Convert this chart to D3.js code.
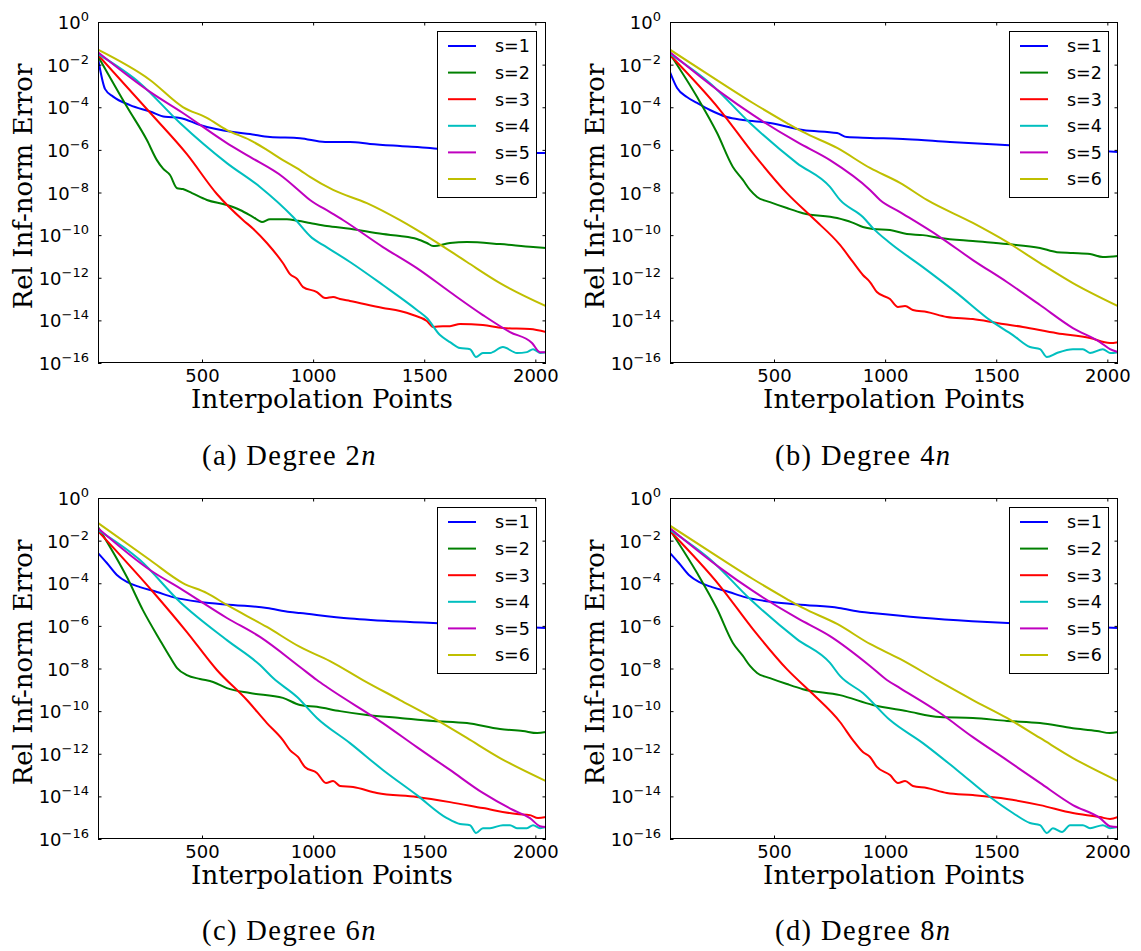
<!DOCTYPE html>
<html><head><meta charset="utf-8">
<script src="https://cdn.jsdelivr.net/npm/d3@7"></script>
<style>body{margin:0;background:#fff}</style>
</head><body>
<script>
// ---------- data (n, log10 of relative inf-norm error) ----------
const seriesNames = ["s=1","s=2","s=3","s=4","s=5","s=6"];
const seriesColors = ["#0000ff","#008000","#ff0000","#00bfbf","#bf00bf","#bfbf00"];
const xTicks = [500,1000,1500,2000];
const yTickExps = [0,-2,-4,-6,-8,-10,-12,-14,-16];
const captions = [["(a) Degree 2","n"],["(b) Degree 4","n"],["(c) Degree 6","n"],["(d) Degree 8","n"]];

// panel (a) degree 2n
const a_s1 = [[32,-1.69],[64,-3.15],[100,-3.5],[176,-3.9],[266,-4.2],[334,-4.45],[401,-4.5],[491,-4.83],[640,-5.16],[716,-5.26],[806,-5.4],[941,-5.45],[1054,-5.63],[1166,-5.63],[1256,-5.72],[1391,-5.82],[1526,-5.91],[1616,-6.0],[1751,-6.1],[2048,-6.15]];
const a_s2 = [[32,-1.6],[163,-3.99],[252,-5.54],[297,-6.48],[324,-6.87],[356,-7.18],[388,-7.8],[414,-7.84],[455,-8.03],[522,-8.35],[612,-8.59],[671,-8.82],[730,-9.15],[770,-9.38],[806,-9.25],[882,-9.25],[932,-9.33],[986,-9.43],[1062,-9.57],[1166,-9.7],[1314,-9.95],[1391,-10.04],[1467,-10.18],[1512,-10.37],[1540,-10.51],[1616,-10.37],[1692,-10.32],[1841,-10.42],[1990,-10.56],[2048,-10.6]];
const a_s3 = [[32,-1.55],[280,-4.41],[432,-6.2],[567,-8.07],[684,-9.29],[730,-9.7],[792,-10.37],[864,-11.31],[896,-11.83],[928,-12.06],[955,-12.44],[1017,-12.67],[1054,-12.95],[1090,-12.9],[1121,-13.0],[1166,-13.09],[1314,-13.42],[1391,-13.56],[1450,-13.75],[1512,-14.03],[1540,-14.31],[1584,-14.27],[1616,-14.27],[1661,-14.17],[1764,-14.22],[1854,-14.36],[1976,-14.41],[2048,-14.55]];
const a_s4 = [[32,-1.5],[221,-2.87],[401,-4.74],[612,-6.62],[761,-7.74],[910,-9.15],[995,-10.13],[1044,-10.46],[1166,-11.26],[1314,-12.34],[1467,-13.51],[1512,-13.89],[1571,-14.69],[1616,-15.02],[1661,-15.3],[1706,-15.35],[1733,-15.72],[1764,-15.53],[1796,-15.53],[1854,-15.25],[1917,-15.53],[1962,-15.49],[1990,-15.35],[2021,-15.53],[2048,-15.49]];
const a_s5 = [[32,-1.42],[266,-3.28],[414,-4.27],[612,-5.68],[716,-6.33],[864,-7.27],[941,-7.95],[986,-8.35],[1076,-8.92],[1134,-9.29],[1314,-10.56],[1467,-11.55],[1616,-12.67],[1764,-13.75],[1886,-14.55],[1985,-15.06],[2021,-15.49],[2048,-15.49]];
const a_s6 = [[32,-1.3],[266,-2.72],[414,-3.99],[522,-4.5],[612,-5.07],[716,-5.54],[792,-6.0],[864,-6.48],[941,-6.95],[986,-7.27],[1090,-7.88],[1242,-8.5],[1391,-9.3],[1540,-10.23],[1692,-11.26],[1841,-12.25],[2048,-13.33]];

// panel (b) degree 4n
const b_s1 = [[32,-2.35],[64,-3.1],[108,-3.52],[154,-3.8],[212,-4.13],[288,-4.46],[360,-4.6],[482,-4.74],[630,-5.07],[784,-5.21],[828,-5.4],[932,-5.44],[1100,-5.5],[1292,-5.63],[1500,-5.75],[1697,-5.87],[1900,-6.0],[2048,-6.1]];
const b_s2 = [[32,-1.5],[154,-3.52],[244,-5.21],[315,-6.8],[360,-7.41],[392,-7.88],[424,-8.21],[482,-8.45],[558,-8.73],[630,-8.97],[784,-9.2],[850,-9.4],[900,-9.62],[945,-9.71],[1022,-9.76],[1098,-9.95],[1170,-10.0],[1247,-10.13],[1395,-10.28],[1548,-10.42],[1697,-10.6],[1773,-10.8],[1845,-10.84],[1922,-10.89],[1980,-11.03],[2048,-10.98]];
const b_s3 = [[32,-1.55],[257,-4.13],[405,-6.15],[558,-8.03],[675,-9.2],[797,-10.46],[855,-11.26],[900,-11.87],[932,-12.2],[963,-12.67],[1022,-13.0],[1058,-13.37],[1090,-13.33],[1125,-13.51],[1188,-13.61],[1278,-13.84],[1395,-13.94],[1503,-14.12],[1620,-14.31],[1773,-14.6],[1922,-14.83],[2012,-15.06],[2048,-15.02]];
const b_s4 = [[32,-1.5],[212,-2.87],[392,-4.74],[603,-6.62],[752,-7.74],[797,-8.35],[900,-9.15],[945,-9.67],[1022,-10.37],[1170,-11.5],[1323,-12.72],[1472,-13.99],[1575,-14.69],[1652,-15.25],[1697,-15.35],[1728,-15.72],[1773,-15.53],[1845,-15.35],[1890,-15.35],[1922,-15.53],[1980,-15.35],[2012,-15.53],[2048,-15.49]];
const b_s5 = [[32,-1.42],[257,-3.28],[405,-4.36],[603,-5.63],[752,-6.48],[932,-7.88],[977,-8.35],[1067,-8.92],[1247,-10.09],[1395,-11.17],[1548,-12.2],[1697,-13.28],[1845,-14.36],[1967,-15.02],[2012,-15.35],[2048,-15.49]];
const b_s6 = [[32,-1.3],[257,-2.82],[405,-3.8],[558,-4.74],[630,-5.16],[784,-5.91],[932,-6.85],[1067,-7.55],[1188,-8.35],[1395,-9.43],[1548,-10.32],[1697,-11.31],[1845,-12.25],[2048,-13.33]];

// panel (c) degree 6n
const c_s1 = [[32,-2.58],[72,-3.05],[117,-3.61],[162,-3.94],[221,-4.18],[297,-4.41],[369,-4.65],[491,-4.88],[640,-5.02],[792,-5.16],[896,-5.35],[941,-5.4],[1166,-5.65],[1391,-5.8],[1616,-5.9],[1841,-6.0],[2048,-6.1]];
const c_s2 = [[32,-1.36],[162,-3.71],[234,-5.26],[311,-6.67],[356,-7.46],[388,-7.98],[432,-8.31],[491,-8.49],[550,-8.63],[612,-8.92],[716,-9.15],[864,-9.38],[941,-9.71],[1017,-9.8],[1121,-10.0],[1242,-10.18],[1391,-10.32],[1540,-10.46],[1692,-10.56],[1841,-10.84],[1944,-10.93],[2008,-11.03],[2048,-10.98]];
const c_s3 = [[32,-1.55],[280,-4.41],[432,-6.29],[567,-8.07],[702,-9.48],[792,-10.56],[864,-11.36],[896,-11.83],[932,-12.15],[963,-12.62],[1017,-12.9],[1058,-13.37],[1090,-13.28],[1121,-13.51],[1180,-13.56],[1287,-13.84],[1467,-14.03],[1616,-14.27],[1764,-14.55],[1917,-14.83],[1976,-14.88],[2012,-15.02],[2048,-14.97]];
const c_s4 = [[32,-1.5],[221,-2.91],[401,-4.88],[612,-6.67],[761,-7.84],[820,-8.45],[928,-9.34],[1017,-10.32],[1166,-11.5],[1314,-12.76],[1467,-13.94],[1602,-15.02],[1661,-15.3],[1706,-15.35],[1733,-15.72],[1764,-15.49],[1796,-15.49],[1854,-15.35],[1886,-15.35],[1917,-15.49],[1962,-15.49],[1990,-15.35],[2021,-15.49],[2048,-15.44]];
const c_s5 = [[32,-1.42],[266,-3.38],[414,-4.32],[612,-5.63],[761,-6.52],[941,-7.93],[1017,-8.54],[1062,-8.87],[1314,-10.56],[1467,-11.69],[1616,-12.76],[1764,-13.84],[1900,-14.64],[1976,-15.02],[2021,-15.4],[2048,-15.44]];
const c_s6 = [[32,-1.17],[266,-2.91],[414,-3.99],[522,-4.46],[612,-5.02],[792,-6.05],[941,-6.99],[1076,-7.65],[1224,-8.54],[1391,-9.48],[1540,-10.32],[1692,-11.26],[1841,-12.2],[2048,-13.28]];

// panel (d) degree 8n
const d_s1 = [[32,-2.58],[72,-3.05],[117,-3.61],[162,-3.94],[221,-4.18],[297,-4.41],[369,-4.65],[491,-4.88],[640,-5.02],[792,-5.16],[896,-5.35],[941,-5.4],[1166,-5.62],[1391,-5.78],[1616,-5.9],[1841,-6.0],[2048,-6.1]];
const d_s2 = [[32,-1.5],[154,-3.52],[244,-5.21],[315,-6.8],[360,-7.41],[392,-7.88],[424,-8.21],[482,-8.45],[558,-8.73],[630,-8.97],[797,-9.25],[945,-9.71],[1098,-10.0],[1247,-10.28],[1395,-10.32],[1548,-10.46],[1697,-10.56],[1845,-10.8],[1953,-10.93],[2012,-11.03],[2048,-10.98]];
const d_s3 = [[32,-1.55],[257,-4.13],[405,-6.15],[558,-8.03],[675,-9.2],[797,-10.51],[855,-11.36],[900,-11.92],[932,-12.15],[963,-12.62],[1022,-13.0],[1058,-13.37],[1090,-13.28],[1125,-13.51],[1188,-13.61],[1278,-13.84],[1395,-13.94],[1548,-14.12],[1697,-14.41],[1845,-14.78],[1967,-14.97],[2012,-15.06],[2048,-14.97]];
const d_s4 = [[32,-1.5],[212,-2.87],[392,-4.74],[603,-6.62],[752,-7.74],[797,-8.35],[900,-9.15],[1022,-10.42],[1170,-11.5],[1323,-12.76],[1472,-14.03],[1575,-14.78],[1652,-15.25],[1697,-15.35],[1728,-15.72],[1755,-15.49],[1796,-15.67],[1832,-15.35],[1890,-15.35],[1922,-15.49],[1980,-15.35],[2012,-15.49],[2048,-15.44]];
const d_s5 = [[32,-1.42],[257,-3.28],[405,-4.36],[603,-5.63],[752,-6.48],[932,-7.88],[1008,-8.54],[1067,-8.92],[1247,-10.09],[1395,-11.22],[1548,-12.3],[1697,-13.37],[1845,-14.41],[1967,-15.02],[2012,-15.4],[2048,-15.44]];
const d_s6 = [[32,-1.3],[257,-2.82],[405,-3.8],[558,-4.74],[630,-5.16],[784,-5.91],[932,-6.85],[1067,-7.55],[1233,-8.54],[1395,-9.48],[1548,-10.32],[1697,-11.26],[1845,-12.2],[2048,-13.28]];

const panelSeries = [
  [a_s1,a_s2,a_s3,a_s4,a_s5,a_s6],
  [b_s1,b_s2,b_s3,b_s4,b_s5,b_s6],
  [c_s1,c_s2,c_s3,c_s4,c_s5,c_s6],
  [d_s1,d_s2,d_s3,d_s4,d_s5,d_s6]
];

// ---------- layout ----------
const W = 1141, H = 951;
const PW = 448, PH = 341;
const origins = [[98,22],[670,22],[98,498],[670,498]];
const captionPos = [[202,465],[775,465],[202,940],[775,940]];
const tickFont = "DejaVu Sans", labelFont = "DejaVu Serif", capFont = "Liberation Serif";

const svg = d3.select("body").append("svg").attr("width",W).attr("height",H);
svg.append("rect").attr("width",W).attr("height",H).attr("fill","#fff");

const x = d3.scaleLinear().domain([32,2048]).range([0,PW]);
const y = d3.scaleLog().domain([1e-16,1]).range([PH,0]);
const line = d3.line().x(d=>x(d[0])).y(d=>y(Math.pow(10,d[1]))).curve(d3.curveMonotoneX);

panelSeries.forEach((series, pi) => {
  const [ox, oy] = origins[pi];
  const g = svg.append("g").attr("transform",`translate(${ox},${oy})`);
  const cid = "clip"+pi;
  g.append("clipPath").attr("id",cid).append("rect").attr("width",PW).attr("height",PH);

  // lines
  const lg = g.append("g").attr("clip-path",`url(#${cid})`);
  series.forEach((s, si) => {
    lg.append("path").datum(s).attr("d",line)
      .attr("fill","none").attr("stroke",seriesColors[si])
      .attr("stroke-width",2).attr("stroke-linejoin","round");
  });

  // axes (ticks inward on all sides)
  const yVals = yTickExps.map(e=>Math.pow(10,e));
  const bottom = g.append("g").attr("transform",`translate(0,${PH})`)
    .call(d3.axisBottom(x).tickValues(xTicks).tickSizeInner(-3.5).tickSizeOuter(0).tickPadding(6.5).tickFormat(d3.format("d")));
  bottom.selectAll("text").attr("font-family",tickFont).attr("font-size",18).attr("fill","#000");
  g.append("g").call(d3.axisTop(x).tickValues(xTicks).tickSizeInner(-3.5).tickSizeOuter(0).tickFormat(""));
  const left = g.append("g")
    .call(d3.axisLeft(y).tickValues(yVals).tickSizeInner(-3.5).tickSizeOuter(0).tickFormat(""));
  left.selectAll(".tick").each(function(d,i){
    const t = d3.select(this).select("text");
    t.attr("x",-9).attr("dy",null).attr("y",6.5).attr("text-anchor","end")
     .attr("font-family",tickFont).attr("fill","#000");
    t.append("tspan").attr("font-size",18).text("10");
    t.append("tspan").attr("font-size",13).attr("dy",-8)
     .text(String(yTickExps[i]).replace("-","\u2212"));
  });
  g.append("g").attr("transform",`translate(${PW},0)`)
    .call(d3.axisRight(y).tickValues(yVals).tickSizeInner(-3.5).tickSizeOuter(0).tickFormat(""));
  g.selectAll(".domain").remove();
  g.selectAll(".tick line").attr("stroke","#000");

  // frame
  g.append("rect").attr("x",0.5).attr("y",0.5).attr("width",PW-1).attr("height",PH-1)
    .attr("fill","none").attr("stroke","#000").attr("stroke-width",1);

  // legend
  const leg = g.append("g").attr("transform",`translate(${PW-109},9)`);
  leg.append("rect").attr("x",0.5).attr("y",0.5).attr("width",99).attr("height",166)
    .attr("fill","#fff").attr("stroke","#000").attr("stroke-width",1);
  seriesNames.forEach((nm, si) => {
    const ry = 15 + si*26.6;
    leg.append("line").attr("x1",11).attr("x2",39).attr("y1",ry).attr("y2",ry)
      .attr("stroke",seriesColors[si]).attr("stroke-width",2);
    leg.append("text").attr("x",58).attr("y",ry).attr("dy","0.36em")
      .attr("font-family",tickFont).attr("font-size",17.5).attr("fill","#000").text(nm);
  });

  // axis labels
  g.append("text").attr("x",PW/2).attr("y",PH+45).attr("text-anchor","middle")
    .attr("font-family",labelFont).attr("font-size",26).attr("fill","#000").text("Interpolation Points");
  g.append("text").attr("transform",`translate(${-66},${PH/2-6}) rotate(-90)`).attr("text-anchor","middle")
    .attr("font-family",labelFont).attr("font-size",26).attr("fill","#000").text("Rel Inf-norm Error");

  // caption
  const [cx, cy] = captionPos[pi];
  const ct = svg.append("text").attr("x",cx).attr("y",cy)
    .attr("font-family",capFont).attr("font-size",28.5).attr("letter-spacing",1.4).attr("fill","#000");
  ct.append("tspan").text(captions[pi][0]);
  ct.append("tspan").attr("font-style","italic").text(captions[pi][1]);
});
</script>
</body></html>
